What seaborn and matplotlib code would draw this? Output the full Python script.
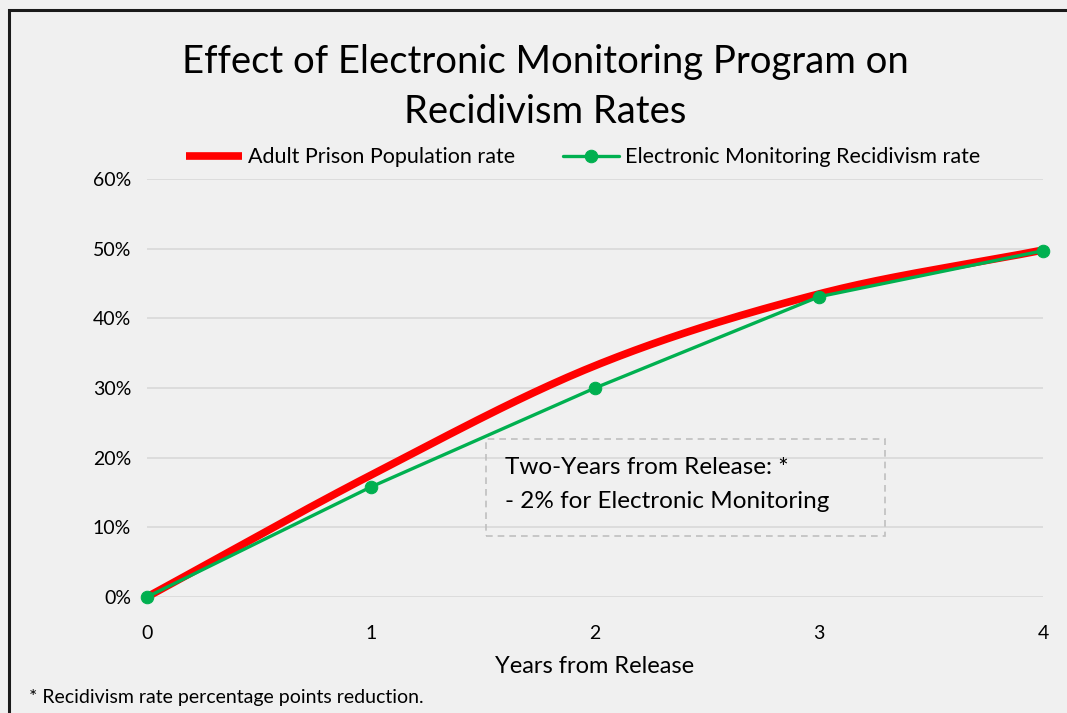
import numpy as np
import pandas as pd
import matplotlib
matplotlib.use('Agg')
import matplotlib.pyplot as plt
from matplotlib.patches import Rectangle
from matplotlib.ticker import PercentFormatter
import seaborn as sns

sns.set_theme(style='white')
plt.rcParams['font.family'] = ['Lato', 'DejaVu Sans']
plt.rcParams['text.color'] = 'black'
plt.rcParams['axes.labelcolor'] = 'black'

# chart data
years = [0, 1, 2, 3, 4]
adult_rate = [0.0, 0.175, 0.332, 0.435, 0.498]     # Adult Prison Population rate
em_rate = [0.0, 0.158, 0.300, 0.431, 0.497]        # Electronic Monitoring Recidivism rate
y_ticks = [0.0, 0.1, 0.2, 0.3, 0.4, 0.5, 0.6]

bg = '#F0F0F0'
red = '#FF0000'
green = '#00B050'


def smooth(xs, ys, n=40):
    """Catmull-Rom style smoothing like the Excel 'smoothed line' option"""
    xs = np.asarray(xs, float)
    ys = np.asarray(ys, float)
    px = np.concatenate([[2 * xs[0] - xs[1]], xs, [2 * xs[-1] - xs[-2]]])
    py = np.concatenate([[2 * ys[0] - ys[1]], ys, [2 * ys[-1] - ys[-2]]])
    out_x, out_y = [], []
    for i in range(1, len(px) - 2):
        t = np.linspace(0, 1, n, endpoint=(i == len(px) - 3))
        for arr, out in ((px, out_x), (py, out_y)):
            p0, p1, p2, p3 = arr[i - 1], arr[i], arr[i + 1], arr[i + 2]
            c1 = p1 + (p2 - p0) / 6
            c2 = p2 - (p3 - p1) / 6
            out.extend((1 - t) ** 3 * p1 + 3 * (1 - t) ** 2 * t * c1 + 3 * (1 - t) * t ** 2 * c2 + t ** 3 * p2)
    return np.array(out_x), np.array(out_y)


sx, sy = smooth(years, adult_rate)
df_red = pd.DataFrame({'x': sx, 'y': sy})
df_green = pd.DataFrame({'x': years, 'y': em_rate})

fig = plt.figure(figsize=(10.67, 7.13), dpi=100)
fig.patch.set_facecolor(bg)
# outer frame (left and top edges visible)
fig.patches.append(Rectangle((9 / 1067, -0.1), 1.2, 1 - 10 / 713 + 0.1, transform=fig.transFigure,
                             fill=False, edgecolor='#1A1A1A', linewidth=2.2))

ax = fig.add_axes([147 / 1067, (713 - 597) / 713, (1043 - 147) / 1067, (597 - 179) / 713])
ax.set_facecolor(bg)

sns.lineplot(data=df_red, x='x', y='y', ax=ax, color=red, linewidth=5.5, sort=False,
             label='Adult Prison Population rate', clip_on=False, solid_capstyle='butt')
sns.lineplot(data=df_green, x='x', y='y', ax=ax, color=green, linewidth=2.4, marker='o',
             markersize=9, markeredgecolor=green, label='Electronic Monitoring Recidivism rate', clip_on=False)

ax.set_xlim(0, 4)
ax.set_ylim(0, 0.6)
ax.set_xticks(years)
ax.set_yticks(y_ticks)
ax.yaxis.set_major_formatter(PercentFormatter(1.0, decimals=0))
ax.grid(axis='y', color='#D9D9D9', linewidth=1.2)
ax.set_axisbelow(True)
for s in ax.spines.values():
    s.set_visible(False)
ax.tick_params(axis='both', length=0, labelsize=14, colors='black')
ax.tick_params(axis='y', pad=11.5)
ax.tick_params(axis='x', pad=20)
ax.set_xlabel('Years from Release', fontsize=17, labelpad=10)
ax.set_ylabel('')

ax.legend(loc='lower center', bbox_to_anchor=(0.487, 1.0), ncol=2, frameon=False, fontsize=15.5,
          handlelength=2.6, columnspacing=2.2, handletextpad=0.3, borderaxespad=0.15)

fig.text(0.511, (713 - 62) / 713, 'Effect of Electronic Monitoring Program on', ha='center', va='center',
         fontsize=27.5)
fig.text(0.511, (713 - 112) / 713, 'Recidivism Rates', ha='center', va='center', fontsize=27.5)

# annotation box
box = Rectangle((486 / 1067, (713 - 536) / 713), (885 - 486) / 1067, (536 - 439) / 713, transform=fig.transFigure,
                fill=False, edgecolor='#BFBFBF', linestyle=(0, (4, 3)), linewidth=1.2)
fig.patches.append(box)
fig.text(505 / 1067, (713 - 468) / 713, 'Two-Years from Release: *', ha='left', va='center', fontsize=17.5)
fig.text(505 / 1067, (713 - 501) / 713, '- 2% for Electronic Monitoring', ha='left', va='center', fontsize=17.5)

fig.text(29 / 1067, (713 - 698) / 713, '* Recidivism rate percentage points reduction.', ha='left', va='center',
         fontsize=14)

fig.savefig('out.png', dpi=100, facecolor=bg)
